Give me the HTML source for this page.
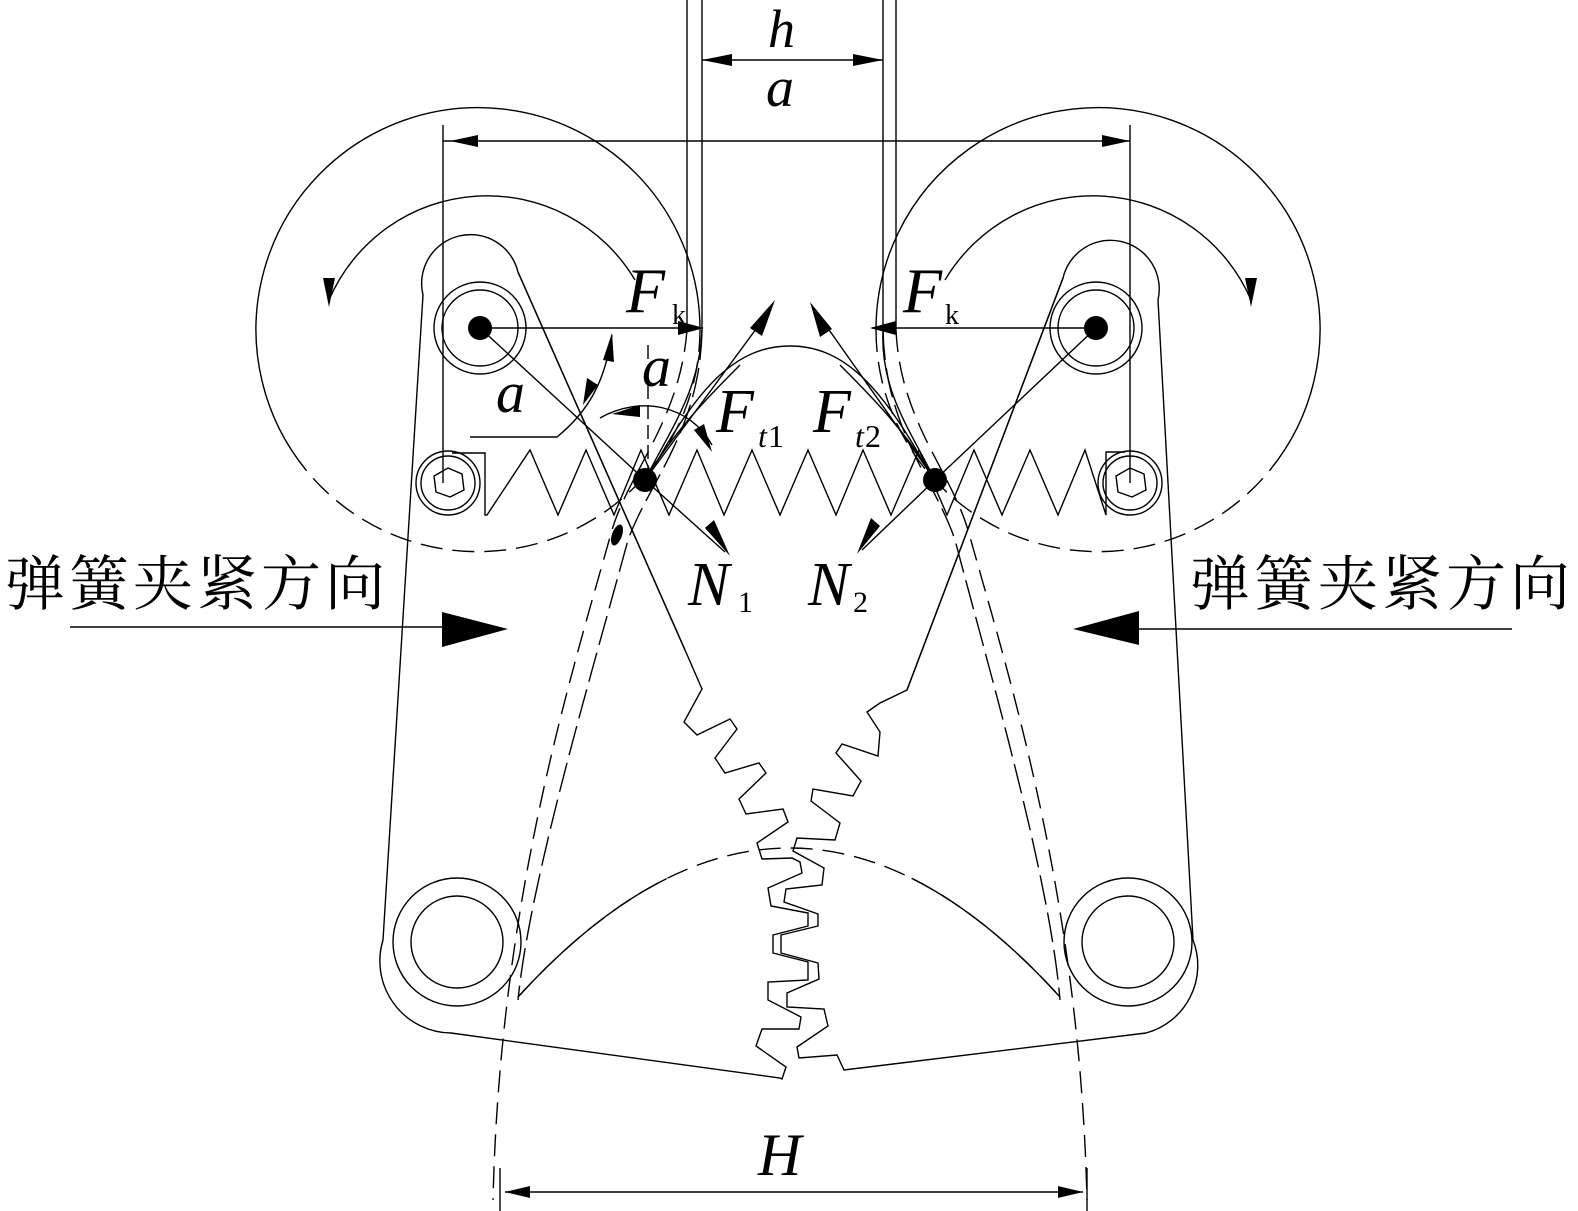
<!DOCTYPE html>
<html><head><meta charset="utf-8"><style>
html,body{margin:0;padding:0;background:#fff}
svg{display:block}
.it{font-family:"Liberation Serif",serif;font-style:italic;fill:#000}
.rm{font-family:"Liberation Serif",serif;fill:#000}
.cn{font-family:"Liberation Serif","Noto Serif CJK SC","Noto Sans CJK SC",serif;font-size:60px;letter-spacing:4px;fill:#000}
</style></head><body>
<svg width="1578" height="1211" viewBox="0 0 1578 1211" xmlns="http://www.w3.org/2000/svg">
<g fill="none" stroke="#000" stroke-width="1.4">
<line x1="687" y1="0" x2="687" y2="330"/>
<line x1="702" y1="0" x2="702" y2="330"/>
<line x1="883" y1="0" x2="883" y2="330"/>
<line x1="896" y1="0" x2="896" y2="330"/>
<line x1="702" y1="60" x2="883" y2="60"/>
<line x1="443" y1="141" x2="1130" y2="141"/>
<line x1="443" y1="125" x2="443" y2="483"/>
<line x1="1130" y1="125" x2="1130" y2="483"/>
<path d="M306 470 A222 222 0 1 1 700 330"/>
<path d="M700 330 A222 222 0 0 1 306 470" stroke-dasharray="22 10"/>
<path d="M1270 470 A222 222 0 1 0 876 330"/>
<path d="M876 330 A222 222 0 0 0 1270 470" stroke-dasharray="22 10"/>
<path d="M329 300 A172 172 0 0 1 635 280"/>
<path d="M1251 300 A172 172 0 0 0 945 280"/>
<path d="M518 272 A48 48 0 0 0 423 295 L383 940 A72 72 0 0 0 451 1033 L780 1078 L782 1079 L786 1067 L756 1046 L762 1029 L799 1029 L801 1017 L768 1000 L768 982 L808 980 L808 962 L773 953 L773 935 L808 926 L808 913 L771 906 L768 888 L802 873 L800 862 L792 858 L762 859 L757 843 L788 822 L783 809 L746 814 L739 799 L766 773 L759 763 L725 773 L715 758 L737 729 L730 719 L697 735 L684 722 L702 689 L685 650 Z"/>
<path d="M1063 278 A48 48 0 0 1 1158 300 L1193 940 A70 70 0 0 1 1146 1033 L844 1070 L837 1055 L799 1058 L797 1047 L828 1026 L824 1009 L787 1007 L787 993 L819 979 L818 963 L781 953 L781 935 L818 926 L818 914 L784 902 L786 889 L822 885 L824 868 L793 851 L797 838 L835 840 L840 823 L811 801 L813 789 L853 796 L861 781 L836 753 L842 744 L878 756 L880 732 L867 712 L880 703 L907 690 Z"/>
<circle cx="480" cy="328" r="46"/><circle cx="480" cy="328" r="38"/>
<circle cx="1096" cy="328" r="46"/><circle cx="1096" cy="328" r="38"/>
<circle cx="448" cy="483" r="32"/><circle cx="448" cy="483" r="27"/>
<polygon points="448,468 462,474 464,490 450,497 436,492 434,476"/>
<circle cx="1130" cy="483" r="32"/><circle cx="1130" cy="483" r="27"/>
<polygon points="1130,468 1144,474 1146,490 1132,497 1118,492 1116,476"/>
<circle cx="457" cy="942" r="64"/><circle cx="457" cy="942" r="46"/>
<circle cx="1128" cy="942" r="64"/><circle cx="1128" cy="942" r="46"/>
<polyline points="452,453 485,453 485,515 487,515 530,450 558,515 586,450 614,515 641,450 669,515 697,450 724,515 752,450 780,515 808,450 836,515 863,450 891,515 919,450 947,515 974,450 1002,515 1030,450 1058,515 1085,450 1106,515 1106,452 1125,452"/>
<path d="M648 478 C700 380 740 346 790 346 C840 346 880 380 932 478"/>
<path d="M645 480 C670 430 700 390 702 330"/>
<path d="M645 480 C675 430 710 395 740 365"/>
<path d="M935 480 C910 430 880 390 883 330"/>
<path d="M935 480 C905 430 870 395 840 365"/>
<path d="M687 330 C680 420 630 470 612 530 C570 680 500 900 493 1200" stroke-dasharray="22 10"/>
<path d="M702 330 C700 430 650 480 628 540 C590 680 530 880 518 1000" stroke-dasharray="30 8"/>
<path d="M896 330 C900 420 950 470 968 530 C1010 680 1080 900 1087 1200" stroke-dasharray="22 10"/>
<path d="M883 330 C885 430 935 480 955 540 C992 680 1050 880 1060 1000" stroke-dasharray="30 8"/>
<path d="M518 997 Q790 699 1060 997" stroke-dasharray="22 10"/>
<path d="M518 997 Q790 699 1060 997" pathLength="100" stroke-dasharray="30 40 30"/>
<line x1="505" y1="1192" x2="1083" y2="1192"/>
<line x1="500" y1="1168" x2="500" y2="1211"/>
<line x1="1087" y1="1168" x2="1087" y2="1211"/>
<line x1="480" y1="328" x2="700" y2="328"/>
<line x1="1096" y1="328" x2="872" y2="328"/>
<line x1="480" y1="328" x2="645" y2="480"/>
<line x1="1096" y1="328" x2="935" y2="480"/>
<line x1="518" y1="272" x2="685" y2="650"/>
<line x1="1063" y1="278" x2="907" y2="690"/>
<line x1="645" y1="480" x2="770" y2="310"/>
<line x1="935" y1="480" x2="815" y2="310"/>
<line x1="645" y1="480" x2="725" y2="552"/>
<line x1="935" y1="480" x2="862" y2="550"/>
<path d="M470 437 L557 437 C590 410 605 380 612 335"/>
<line x1="648" y1="345" x2="648" y2="470" stroke-dasharray="14 6"/>
<path d="M600 418 C640 395 690 405 712 445"/>
<line x1="70" y1="627" x2="445" y2="627"/>
<line x1="1512" y1="629" x2="1135" y2="629"/>
</g>
<g fill="#000">
<polygon points="702,60 732,54 732,66"/>
<polygon points="883,60 853,54 853,66"/>
<polygon points="1130,141 1102,135 1102,147"/>
<polygon points="450,141 478,135 478,147"/>
<polygon points="704,328 678,321 678,335"/>
<polygon points="870,328 896,321 896,335"/>
<polygon points="329,307 323,278 335,278"/>
<polygon points="1251,307 1245,278 1257,278"/>
<polygon points="775,300 750,328 762,336"/>
<polygon points="810,302 820,337 832,329"/>
<polygon points="730,556 705,528 714,520"/>
<polygon points="857,554 880,526 871,518"/>
<polygon points="612,333 603,360 614,362"/>
<polygon points="583,405 587,378 598,385"/>
<polygon points="612,414 640,405 640,417"/>
<polygon points="712,452 694,430 704,424"/>
<polygon points="442,612 508,629 442,647"/>
<polygon points="1139,611 1073,629 1139,645"/>
<polygon points="505,1192 530,1186 530,1198"/>
<polygon points="1083,1192 1058,1186 1058,1198"/>
<circle cx="480" cy="328" r="12"/><circle cx="1096" cy="328" r="12"/>
<circle cx="645" cy="480" r="12"/><circle cx="935" cy="480" r="12"/>
<ellipse cx="617" cy="535" rx="5" ry="11" transform="rotate(20 617 535)"/>
</g>
<text class="it" x="768" y="47" font-size="54">h</text>
<text class="it" x="766" y="106" font-size="56">a</text>
<text class="it" x="626" y="312" font-size="64">F</text>
<text class="rm" x="672" y="324" font-size="28">k</text>
<text class="it" x="903" y="312" font-size="64">F</text>
<text class="rm" x="945" y="324" font-size="28">k</text>
<text class="it" x="496" y="412" font-size="58">a</text>
<text class="it" x="642" y="386" font-size="58">a</text>
<text class="it" x="716" y="432" font-size="62">F</text>
<text class="it" x="758" y="447" font-size="32">t</text><text class="rm" x="768" y="447" font-size="32">1</text>
<text class="it" x="813" y="432" font-size="62">F</text>
<text class="it" x="855" y="447" font-size="32">t</text><text class="rm" x="865" y="447" font-size="32">2</text>
<text class="it" x="688" y="605" font-size="62">N</text>
<text class="rm" x="738" y="612" font-size="30">1</text>
<text class="it" x="808" y="605" font-size="62">N</text>
<text class="rm" x="853" y="612" font-size="30">2</text>
<text class="it" x="758" y="1175" font-size="60">H</text>
<text class="cn" x="5" y="605">弹簧夹紧方向</text>
<text class="cn" x="1190" y="605">弹簧夹紧方向</text>
</svg>
</body></html>
